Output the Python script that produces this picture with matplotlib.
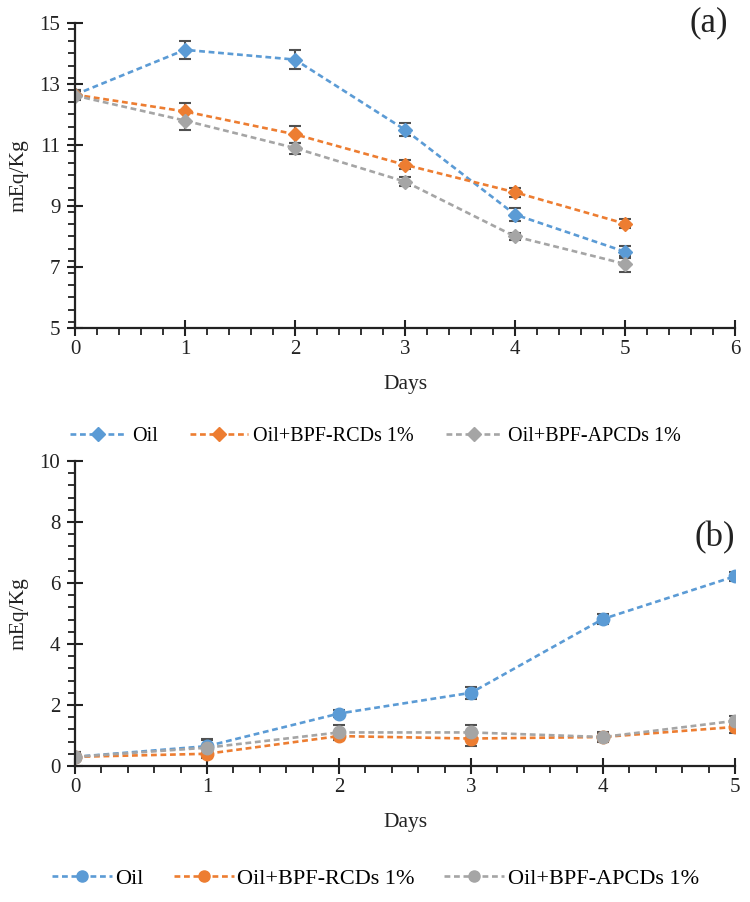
import matplotlib
matplotlib.use("Agg")
import matplotlib.pyplot as plt
from matplotlib.ticker import MultipleLocator, FixedLocator
from matplotlib.lines import Line2D

plt.rcParams['font.family'] = ['Liberation Serif', 'DejaVu Serif']

days = [0, 1, 2, 3, 4, 5]
labels = ["Oil", "Oil+BPF-RCDs 1%", "Oil+BPF-APCDs 1%"]
colors = ["#5B9BD5", "#ED7D31", "#A5A5A5"]

# Panel (a)
a_oil = [12.65, 14.12, 13.8, 11.5, 8.72, 7.5]
a_rcd = [12.65, 12.1, 11.35, 10.35, 9.45, 8.42]
a_apcd = [12.62, 11.8, 10.9, 9.8, 8.0, 7.1]
a_oil_err = [0.15, 0.3, 0.3, 0.22, 0.22, 0.2]
a_rcd_err = [0.15, 0.28, 0.28, 0.15, 0.15, 0.15]
a_apcd_err = [0.15, 0.32, 0.18, 0.15, 0.13, 0.25]

# Panel (b)
b_oil = [0.3, 0.65, 1.72, 2.4, 4.82, 6.22]
b_rcd = [0.3, 0.4, 0.98, 0.9, 0.95, 1.28]
b_apcd = [0.3, 0.6, 1.1, 1.1, 0.95, 1.48]
b_oil_err = [0.15, 0.25, 0.12, 0.2, 0.15, 0.15]
b_rcd_err = [0.1, 0.15, 0.12, 0.25, 0.15, 0.2]
b_apcd_err = [0.15, 0.25, 0.25, 0.25, 0.12, 0.15]

a_yticks = [5, 7, 9, 11, 13, 15]
b_yticks = [0, 2, 4, 6, 8, 10]

fig = plt.figure(figsize=(7.5, 9.02), dpi=100)
ax1 = fig.add_axes([0.1, 0.6364, 0.88, 0.3381])
ax2 = fig.add_axes([0.1, 0.1508, 0.88, 0.3381])

ink = '#222222'

def style(ax):
    for s in ['top', 'right']:
        ax.spines[s].set_visible(False)
    for s in ['left', 'bottom']:
        ax.spines[s].set_linewidth(1.6)
        ax.spines[s].set_color(ink)
    ax.tick_params(which='major', direction='inout', length=11, width=1.5, labelsize=15, colors=ink)
    ax.tick_params(which='minor', direction='out', length=5, width=1.3, colors=ink)
    ax.tick_params(axis='y', which='major', pad=5)
    ax.tick_params(axis='x', which='major', pad=3)
    ax.set_xlabel("Days", fontsize=15.5, labelpad=12, color=ink)
    ax.set_ylabel("mEq/Kg", fontsize=15.5, labelpad=8, color=ink)

dash = (0, (2.2, 1.4))

series_a = [(a_oil, a_oil_err), (a_rcd, a_rcd_err), (a_apcd, a_apcd_err)]
for (y, e), c, lab in zip(series_a, colors, labels):
    ax1.errorbar(days, y, yerr=e, color=c, ls=dash, lw=1.9, marker='D', ms=7,
                 ecolor='#505050', elinewidth=1.5, capsize=4, capthick=1.5, label=lab)
ax1.set_xlim(0, 6)
ax1.set_ylim(5, 15)
ax1.xaxis.set_major_locator(MultipleLocator(1))
ax1.xaxis.set_minor_locator(MultipleLocator(0.2))
ax1.yaxis.set_major_locator(FixedLocator(a_yticks))
ax1.yaxis.set_minor_locator(MultipleLocator(0.4))
style(ax1)
ax1.text(0.99, 1.0, "(a)", transform=ax1.transAxes, fontsize=25, ha='right', va='center', color=ink)
h1 = [Line2D([], [], color=c, ls=dash, lw=1.9, marker='D', ms=7) for c in colors]
ax1.legend(h1, labels, loc='center left', bbox_to_anchor=(-0.008, -0.357), ncol=3, frameon=False,
           fontsize=14.5, handlelength=2.85, columnspacing=1.6, handletextpad=0.25,
           borderaxespad=0, borderpad=0)

series_b = [(b_oil, b_oil_err), (b_rcd, b_rcd_err), (b_apcd, b_apcd_err)]
for (y, e), c, lab in zip(series_b, colors, labels):
    ax2.errorbar(days, y, yerr=e, color=c, ls=dash, lw=1.9, marker='o', ms=9,
                 ecolor='#505050', elinewidth=1.5, capsize=4, capthick=1.5, label=lab)
ax2.set_xlim(0, 5)
ax2.set_ylim(0, 10)
ax2.xaxis.set_major_locator(MultipleLocator(1))
ax2.xaxis.set_minor_locator(MultipleLocator(0.2))
ax2.yaxis.set_major_locator(FixedLocator(b_yticks))
ax2.yaxis.set_minor_locator(MultipleLocator(0.4))
style(ax2)
ax2.text(1.0, 0.75, "(b)", transform=ax2.transAxes, fontsize=25, ha='right', va='center', color=ink)
h2 = [Line2D([], [], color=c, ls=dash, lw=1.9, marker='o', ms=8) for c in colors]
ax2.legend(h2, labels, loc='center left', bbox_to_anchor=(-0.035, -0.370), ncol=3, frameon=False,
           fontsize=16, handlelength=2.7, columnspacing=1.35, handletextpad=0.15,
           borderaxespad=0, borderpad=0)

fig.savefig("out.png", dpi=100)
